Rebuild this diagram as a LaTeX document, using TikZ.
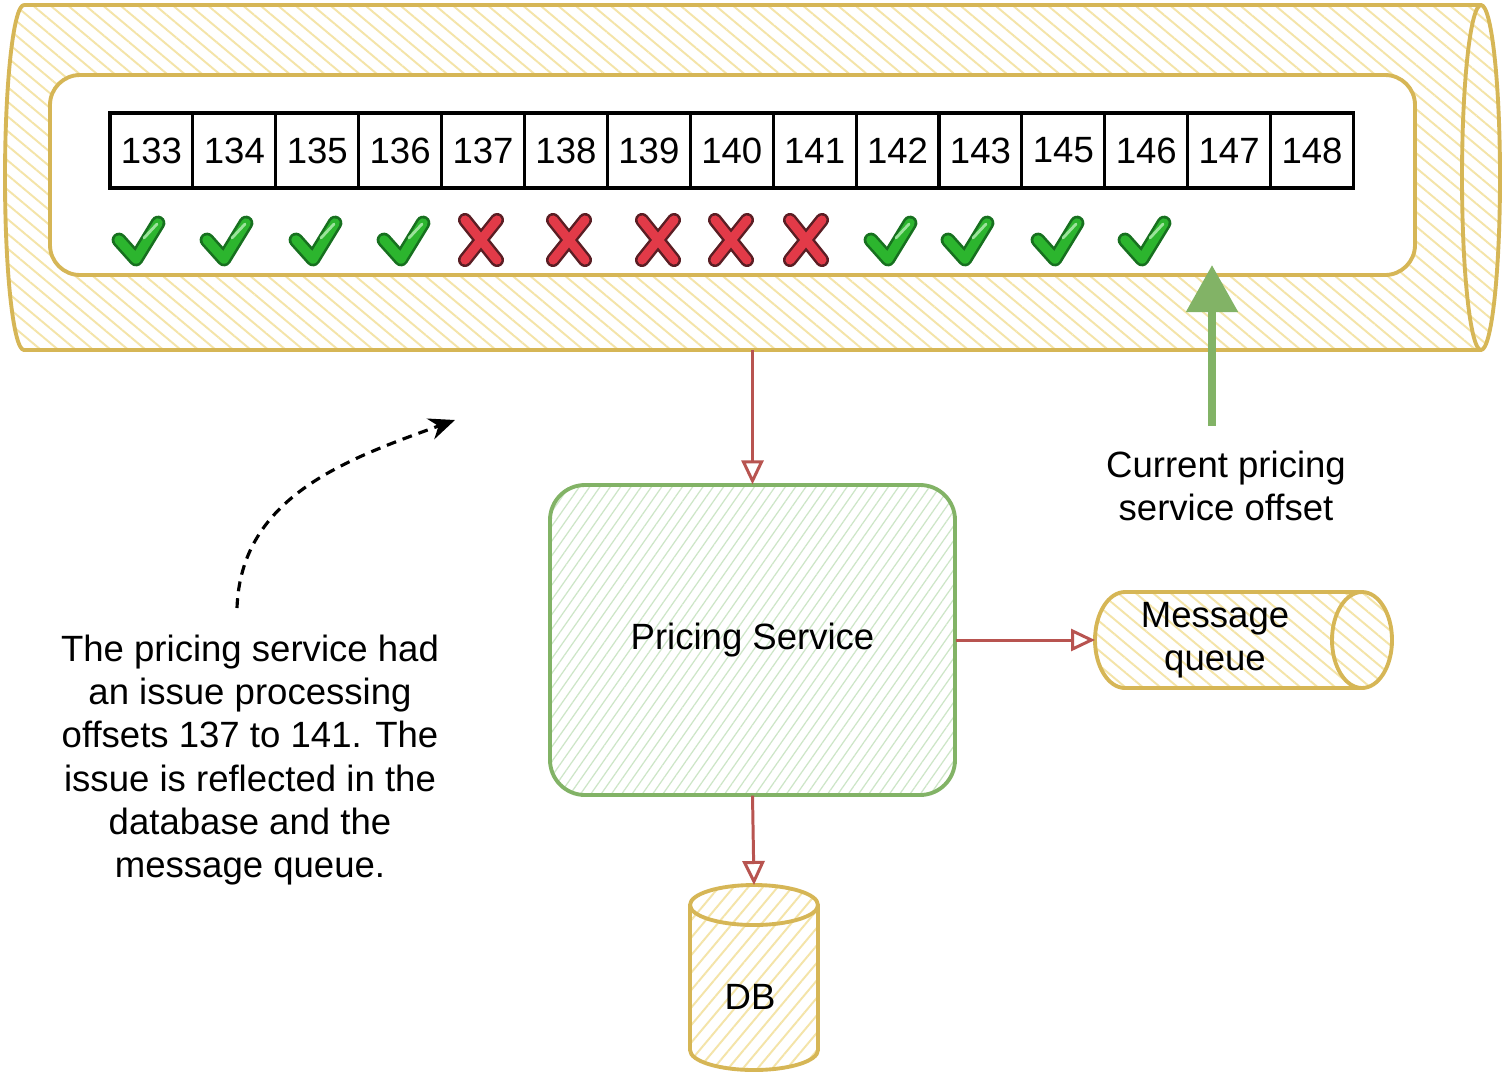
\documentclass[tikz,border=0pt]{standalone}
\usepackage{fontspec}
\setmainfont{Liberation Sans}
\usetikzlibrary{arrows.meta,patterns.meta}
\definecolor{goldline}{HTML}{D6B656}
\definecolor{goldhatch}{HTML}{F4E4A8}
\definecolor{greenline}{HTML}{82B366}
\definecolor{greenhatch}{HTML}{CDE6C7}
\definecolor{redline}{HTML}{B85450}
\definecolor{okdark}{HTML}{17701F}
\definecolor{okgreen}{HTML}{2CB52E}
\definecolor{okshine}{HTML}{9BE39B}
\definecolor{faildark}{HTML}{5A1E24}
\definecolor{failred}{HTML}{E23A48}
\begin{document}
\begin{tikzpicture}[>=latex,thick,
  every node/.style={font=\fontsize{10.4}{12.3}\selectfont},
  box/.style={inner sep=0pt,outer sep=0pt},
  goldtube/.style={draw=goldline,line width=1.1pt,line join=round,
    pattern={Lines[angle=-40,distance=3.2pt,line width=0.55pt]},pattern color=goldhatch},
  cell/.style={draw,line width=0.9pt,fill=white,inner sep=0pt,
    minimum width=0.829cm,minimum height=0.75cm},
  service/.style={draw=greenline,line width=1.1pt,rounded corners=0.35cm,
    minimum width=4.05cm,minimum height=3.1cm,
    pattern={Lines[angle=55,distance=2.4pt,line width=0.35pt]},pattern color=greenhatch},
  flow/.style={redline,line width=0.85pt,-{Triangle[open,width=0.22cm,length=0.24cm]}},
  okline/.style={line cap=round,line join=round},
]
\def\my{-2.40}
\def\rx{0.19cm}
\def\ry{1.725cm}
\fill[white] (0,0) rectangle (15.04,-10.79);
\useasboundingbox (0,0) rectangle (15.04,-10.79);
% the topic
\node (log) at (7.525,-1.775) [box,minimum width=14.95cm,minimum height=3.45cm] {};
\draw[goldtube] ([xshift=\rx]log.north west) -- ([xshift=-\rx]log.north east)
  arc[start angle=90,end angle=-90,x radius=\rx,y radius=\ry]
  -- ([xshift=\rx]log.south west)
  arc[start angle=270,end angle=90,x radius=\rx,y radius=\ry] -- cycle;
\draw[goldline,line width=1.1pt] ([xshift=-\rx]log.north east)
  arc[start angle=90,end angle=270,x radius=\rx,y radius=\ry];
\node (lane) at (7.325,-1.75) [draw=goldline,line width=1.1pt,fill=white,rounded corners=0.3cm,
  minimum width=13.65cm,minimum height=2cm] {};
\foreach \n [count=\i] in {133,134,135,136,137,138,139,140,141,142,143,145,146,147,148}
  \node (c\i) at ({1.10+(\i-0.5)*0.829},-1.505) [cell] {\n};
\foreach \x in {1.38,2.26,3.15,4.03,8.90,9.67,10.57,11.44}{
  \begin{scope}[shift={(\x,\my)}]
  \draw[okline,okdark,line width=4.2pt] (-0.19,0.0) -- (-0.02,-0.19) -- (0.2,0.17);
  \draw[okline,okgreen,line width=2.7pt] (-0.19,0.0) -- (-0.02,-0.19) -- (0.2,0.17);
  \draw[okline,okshine,line width=0.8pt] (0.06,0.02) -- (0.19,0.16);
  \end{scope}}
\foreach \x in {4.81,5.69,6.58,7.31,8.06}{
  \begin{scope}[shift={(\x,\my)}]
  \draw[okline,faildark,line width=4pt] (-0.16,0.2) -- (0.16,-0.2) (0.16,0.2) -- (-0.16,-0.2);
  \draw[okline,failred,line width=2.6pt] (-0.16,0.2) -- (0.16,-0.2) (0.16,0.2) -- (-0.16,-0.2);
  \end{scope}}
% consumer and outputs
\node (svc) at (7.525,-6.40) [service] {\raisebox{-0.04cm}{Pricing Service}};
\node (mq) at (12.435,-6.40) [box,minimum width=2.97cm,minimum height=0.96cm] {};
\draw[goldtube] ([xshift=0.3cm]mq.north west) -- ([xshift=-0.3cm]mq.north east)
  arc[start angle=90,end angle=-90,x radius=0.3cm,y radius=0.48cm]
  -- ([xshift=0.3cm]mq.south west)
  arc[start angle=270,end angle=90,x radius=0.3cm,y radius=0.48cm] -- cycle;
\draw[goldline,line width=1.1pt] ([xshift=-0.3cm]mq.north east)
  arc[start angle=90,end angle=270,x radius=0.3cm,y radius=0.48cm];
\node (mqtext) at (12.15,-6.40) [align=center] {Message\\queue};
\node (db) at (7.54,-9.775) [box,minimum width=1.28cm,minimum height=1.85cm] {};
\draw[goldtube,pattern={Lines[angle=50,distance=3.2pt,line width=0.55pt]}]
  ([yshift=-0.2cm]db.north west) -- ([yshift=0.2cm]db.south west)
  arc[start angle=180,end angle=360,x radius=0.64cm,y radius=0.2cm]
  -- ([yshift=-0.2cm]db.north east)
  arc[start angle=0,end angle=180,x radius=0.64cm,y radius=0.2cm] -- cycle;
\draw[goldline,line width=1.1pt] ([yshift=-0.2cm]db.north west)
  arc[start angle=180,end angle=360,x radius=0.64cm,y radius=0.2cm];
\node (dbtext) at (7.50,-9.97) {DB};
\draw[flow] (log.south) -- (svc.north);
\draw[flow] (svc.east) -- (mq.west);
\draw[flow] (svc.south) -- (db.north);
% offset marker and note
\node (offset) at (12.26,-4.86) [align=center] {Current pricing\\service offset};
\coordinate (now) at (12.12,-2.65);
\draw[greenline,line width=2.4pt,-{Triangle[width=0.5cm,length=0.47cm]}] ([yshift=0.12cm]offset.north -| now) -- (now);
\node (note) at (2.50,-7.60) [align=center] {The pricing service had\\an issue processing\\offsets 137 to 141. The\\issue is reflected in the\\database and the\\message queue.};
\coordinate (tail) at (2.37,-6.08);
\coordinate (tip) at (4.55,-4.20);
\draw[line width=0.9pt,dash pattern=on 2.8pt off 2pt,-{Stealth[length=0.26cm,width=0.22cm]}] (tail) to[out=88,in=200] (tip);
\end{tikzpicture}
\end{document}
